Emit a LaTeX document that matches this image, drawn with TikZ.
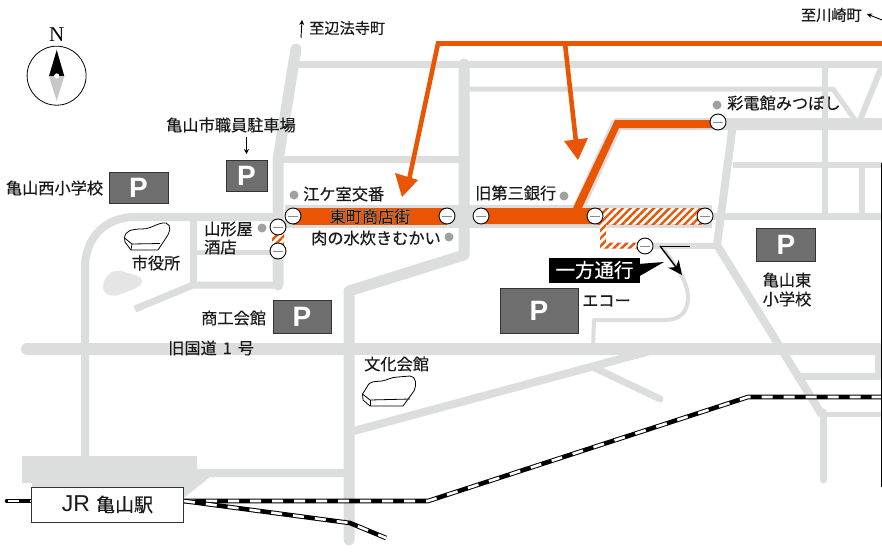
\documentclass[tikz,border=0pt]{standalone}
\usepackage{fontspec}
\setmainfont{Noto Sans CJK JP}[FakeBold=0.35]
\newfontfamily\haloface{Noto Sans CJK JP}[FakeBold=2.2]
\newfontfamily\latinsans{Liberation Sans}
\newfontfamily\latinserif{Liberation Serif}
\usetikzlibrary{patterns.meta,arrows.meta}
\definecolor{roadgray}{HTML}{DCDDDD}
\definecolor{mapfg}{HTML}{1A1A1A}
\definecolor{parkgray}{HTML}{6E6E6E}
\definecolor{dotgray}{HTML}{A0A0A0}
\definecolor{streetorange}{HTML}{EA5504}
\tikzset{
  road/.style={draw=roadgray,line width=#1,line join=round},
  road/.default=7pt,
  lbl/.style={inner sep=0pt,text=mapfg,font=\fontsize{16.2}{18}\selectfont},
  sidelbl/.style={inner sep=0pt,text=mapfg,font=\fontsize{15.2}{18}\selectfont},
  parkbox/.style={draw=black!80,line width=.8pt,fill=parkgray,inner sep=0pt,text=white,
     font=\latinsans\bfseries\fontsize{28}{28}\selectfont},
  spot/.style={circle,fill=dotgray,inner sep=0pt,minimum size=9pt},
  stopmark/.style={circle,draw=black,line width=.9pt,fill=white,inner sep=0pt,minimum size=16pt,
     path picture={\draw[black!45,line width=1pt] ([xshift=-5pt]path picture bounding box.center) -- ([xshift=5pt]path picture bounding box.center);}},
  hatch/.style={pattern={Lines[angle=45,distance=5.5pt,line width=2.4pt]},pattern color=streetorange},
  orangeline/.style={draw=streetorange,line join=miter},
  orangetip/.style={fill=streetorange},
  building/.style={draw=black,line width=.8pt,fill=white,line join=round},
  thinarrow/.style={draw=black,line width=.9pt,-{Stealth[length=5pt,width=5pt]}},
}
\newcommand{\railline}[1]{%
  \draw[black,line width=4.6pt,line join=miter] #1;
  \draw[white,line width=2.6pt,dash pattern=on 11pt off 11pt] #1;}
\begin{document}
\begin{tikzpicture}[x=1pt,y=-1pt]
\useasboundingbox (0,0) rectangle (882,551);
\fill[white] (0,0) rectangle (882,551);
% ---------- roads ----------
\draw[road=8pt,line cap=round] (85,470) -- (85,268) .. controls (85,238) and (105,217) .. (135,217) -- (278,217);
\draw[road=11pt,line cap=round] (296,49) -- (278,160) -- (278,285);
\draw[road=7pt] (278,285) -- (193,285) -- (135,309);
\draw[road=7pt] (193,217) -- (193,285);
\draw[road=5pt] (193,252) -- (278,252);
\draw[road=7pt] (296,64) -- (882,64);
\draw[road=7pt] (278,159) -- (464,159);
\draw[road=11pt,line cap=round] (464,64) -- (464,255) -- (349,291) -- (349,540);
\draw[road=5pt] (464,89) -- (833,89) -- (855,120);
\draw[road=23pt] (285,216.5) -- (712,216.5);
\draw[road=7pt] (712,216.5) -- (882,216.5);
\draw[road=12pt] (575,216) -- (617,124) -- (882,124);
\draw[road=8pt] (733,124) -- (717,245) -- (822,415);
\draw[road=6pt] (733,165) -- (882,165);
\draw[road=6pt] (825,64) -- (825,216);
\draw[road=6pt] (862,165) -- (862,216);
\draw[road=6pt] (860,120) -- (882,66);
\draw[road=6pt] (600,246) -- (717,246);
\draw[road=7pt,line cap=round] (823,412) -- (823,480);
\draw[road=5pt] (823,414) -- (882,414);
\draw[road=7pt] (795,376) -- (878,376) -- (878,349);
\draw[road=12pt,line cap=round] (27,349) -- (882,349);
\draw[road=4pt] (662,247) .. controls (680,270) and (688,285) .. (688,297) .. controls (688,312) and (680,320) .. (665,320) -- (594,320) -- (593,349);
\draw[road=8pt] (350,432) -- (650,351);
\draw[road=7pt,line cap=round] (595,368) -- (660,399);
\fill[roadgray] (22,456) -- (197,456) -- (197,469) -- (345,469) -- (345,477) -- (210,477) -- (185,497) -- (32,497) -- (32,483) -- (22,483) -- cycle;
\fill[black!10] (103,285) .. controls (106,272) and (115,269) .. (125,272) .. controls (134,275) and (142,276) .. (142,281) .. controls (142,288) and (128,291) .. (118,295) .. controls (108,298) and (102,292) .. (103,285) -- cycle;
% ---------- rail ----------
\draw[black,line width=4.6pt,line cap=round] (7,501) -- (31,501);
\draw[white,line width=2.6pt,dash pattern=on 11pt off 11pt] (8,501) -- (31,501);
\railline{(184,501) -- (428,501) -- (748,397) -- (881,397)}
\railline{(184,501) -- (350,523) -- (386,538)}
% ---------- street ----------
\fill[streetorange] (293,208) rectangle (447,225);
\fill[streetorange] (481,208) -- (573,208) -- (615,120) -- (718,120) -- (718,128) -- (619,128) -- (582,208) -- (595,208) -- (595,224) -- (481,224) -- cycle;
\fill[white] (595,208) rectangle (705,224);
\fill[hatch] (595,208) rectangle (705,224);
\fill[white] (600,224) -- (606,224) -- (606,242.5) -- (645,242.5) -- (645,248.5) -- (600,248.5) -- cycle;
\fill[hatch] (600,224) -- (606,224) -- (606,242.5) -- (645,242.5) -- (645,248.5) -- (600,248.5) -- cycle;
\fill[white] (272,234) rectangle (284,245);
\fill[hatch] (272,234) rectangle (284,245);
% ---------- orange route and arrows ----------
\coordinate (routeE) at (882,43.5);
\coordinate (routeW) at (438,43.5);
\coordinate (routeM) at (565,43.5);
\draw[orangeline,line width=4.6pt] (routeE) -- (routeW) -- (409,180);
\fill[orangetip] (402,197) -- (395,173) -- (418,180) -- cycle;
\draw[orangeline,line width=4.6pt] (routeM) -- (576,142);
\fill[orangetip] (578,160) -- (564,141) -- (588,138) -- cycle;
% ---------- one way ----------
\coordinate (onewayA) at (660,246);
\coordinate (onewayB) at (690,246);
\coordinate (onewayC) at (682,275);
\draw[black,line width=1pt] (onewayB) -- (onewayA);
\draw[black,line width=1.4pt,-{Stealth[length=14pt,width=13pt,inset=4pt]}] (onewayA) -- (onewayC);
\fill[black] (664,262) -- (638,264) -- (638,277) -- cycle;
\node[fill=black,text=white,inner sep=0pt,minimum width=91pt,minimum height=25pt,font=\fontsize{19.5}{20}\selectfont] (oneway) at (594.5,270) {一方通行};
% ---------- entry marks ----------
\node[stopmark] (s1) at (293,216) {};
\node[stopmark] (s2) at (447,216) {};
\node[stopmark] (s3) at (481,216) {};
\node[stopmark] (s4) at (595,216) {};
\node[stopmark] (s5) at (705,216) {};
\node[stopmark] (s6) at (718,122) {};
\node[stopmark] (s7) at (645,246) {};
\node[stopmark] (s8) at (278,227) {};
\node[stopmark] (s9) at (278,251) {};
% ---------- compass ----------
\draw[black,line width=.8pt] (56.6,75.7) circle (29.5);
\fill[black] (56.7,50) -- (64.3,76) -- (49,76) -- cycle;
\fill[black!22] (49,76) -- (64.3,76) -- (56.7,101) -- cycle;
\fill[white] (56.7,76) circle (2.6);
\node[inner sep=0pt,text=black,font=\latinserif\fontsize{21}{21}\selectfont] (north) at (56.7,35) {N};
% ---------- parking ----------
\node[parkbox,minimum width=59pt,minimum height=31pt] (p1) at (138.5,187.5) {P};
\node[parkbox,minimum width=41pt,minimum height=31pt] (p2) at (246.5,175.5) {P};
\node[parkbox,minimum width=58pt,minimum height=33pt] (p3) at (302,316.5) {P};
\node[parkbox,minimum width=78pt,minimum height=45pt] (p4) at (539,310.5) {P};
\node[parkbox,minimum width=59pt,minimum height=33pt] (p5) at (786,245) {P};
% ---------- buildings ----------
\draw[building] (124.5,238) .. controls (125,231) and (131,229) .. (142,229) .. controls (152,229) and (158,222) .. (166,223) .. controls (172,225) and (170,233) .. (166,238) -- (158,250) -- (131,250) -- (125,242) -- cycle;
\draw[building] (124.5,238) -- (132,244) -- (160,243.5);
\draw[building] (132,244) -- (131,250);
\draw[building] (362.5,394) -- (367,387) .. controls (370,380) and (376,382) .. (382,381) .. controls (388,380) and (391,377) .. (398,377) -- (410,376) .. controls (416,376) and (417,385) .. (414,391) -- (403,406) -- (370,406) -- (363,400) -- cycle;
\draw[building] (362.5,394) -- (370,400) -- (410,399);
\draw[building] (370,400) -- (370,406);
% ---------- spots ----------
\node[spot] (d1) at (294,195) {};
\node[spot] (d2) at (564,196) {};
\node[spot] (d3) at (717,105) {};
\node[spot] (d4) at (449,237) {};
\node[spot] (d5) at (262,228) {};
% ---------- labels ----------
\node[sidelbl,anchor=west] (t1) at (309,28) {至辺法寺町};
\node[sidelbl,anchor=east] (t2) at (862,15) {至川崎町};
\node[lbl] (t3) at (231,125) {亀山市職員駐車場};
\node[lbl] (t4) at (54.5,188) {亀山西小学校};
\node[lbl,anchor=west] (t5) at (303,194) {江ケ室交番};
\node[lbl,anchor=west] (t6) at (475,193) {旧第三銀行};
\node[lbl,anchor=west] (t7) at (727,103) {彩電館みつぼし};
\node[lbl,anchor=center] (t8) at (370,216.5) {\rlap{\color{white!85!streetorange}\haloface 東町商店街}東町商店街};
\node[lbl,anchor=west] (t9) at (311,238) {肉の水炊きむかい};
\node[lbl,anchor=west] (t10) at (204,229) {山形屋};
\node[lbl,anchor=west] (t11) at (204,247) {酒店};
\node[lbl] (t12) at (156,263) {市役所};
\node[lbl,anchor=west] (t13) at (201,318) {商工会館};
\node[lbl,anchor=west] (t14) at (582,301) {エコー};
\node[lbl] (t15) at (787,280) {亀山東};
\node[lbl] (t16) at (787,299) {小学校};
\node[lbl,anchor=west] (t17) at (168,348) {旧国道\hspace{6pt}1\hspace{6pt}号};
\node[lbl,anchor=west] (t18) at (364,364) {文化会館};
% ---------- small arrows ----------
\coordinate (upA) at (301,38);
\coordinate (upB) at (302,20);
\draw[thinarrow] (upA) -- (upB);
\coordinate (cwA) at (882,20);
\coordinate (cwB) at (867,14);
\draw[thinarrow] (cwA) -- (cwB);
\draw[thinarrow] (t3.south -| p2.north) ++(0,4) -- (p2.north |- 0,154);
% ---------- station ----------
\node[draw=black!80,line width=.9pt,fill=white,inner sep=0pt,minimum width=152pt,minimum height=35pt,text=mapfg,font=\fontsize{19}{20}\selectfont] (station) at (107.5,504.5) {{\latinsans\fontsize{23}{23}\selectfont JR}\hspace{6pt}亀山駅};
% ---------- frame edge ----------
\coordinate (edgeA) at (881.3,163);
\coordinate (edgeB) at (881.3,487);
\draw[black,line width=1pt] (edgeA) -- (edgeB);
\end{tikzpicture}
\end{document}
